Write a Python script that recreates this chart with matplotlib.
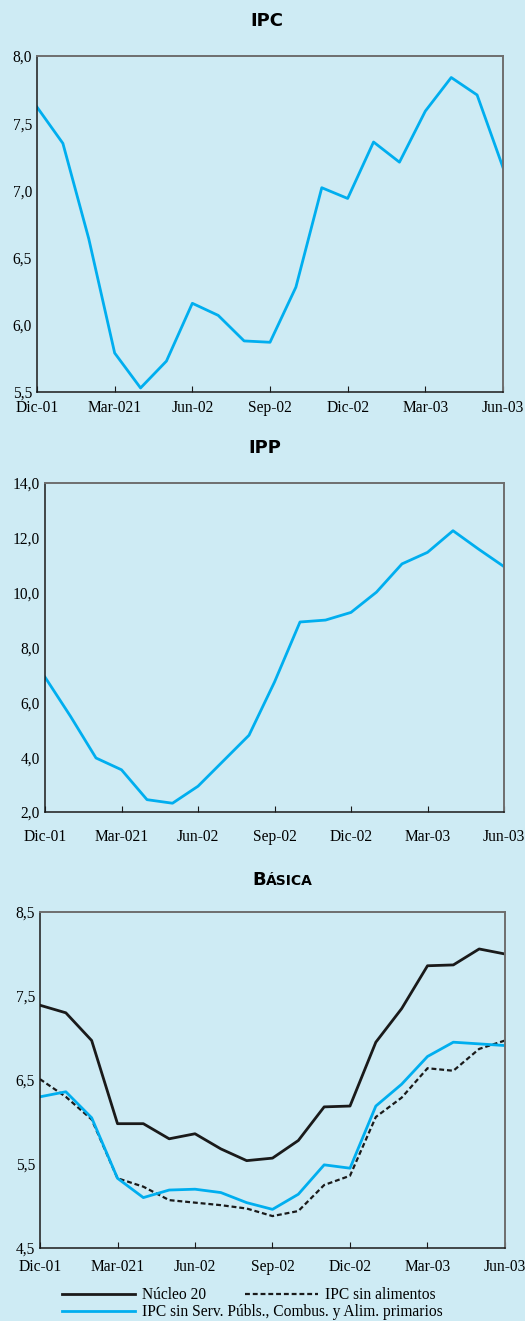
import numpy as np
import matplotlib.pyplot as plt
from matplotlib.lines import Line2D

# Meses (Dic-01 ... Jun-03), 19 observaciones mensuales
meses = np.arange(19)
etiquetas_x = ['Dic-01', 'Mar-021', 'Jun-02', 'Sep-02', 'Dic-02', 'Mar-03', 'Jun-03']
pos_etiquetas = [0, 3, 6, 9, 12, 15, 18]

ipc = [7.62, 7.35, 6.64, 5.79, 5.53, 5.73, 6.16, 6.07, 5.88, 5.87,
       6.28, 7.02, 6.94, 7.36, 7.21, 7.59, 7.84, 7.71, 7.17]

ipp = [6.92, 5.49, 3.97, 3.54, 2.45, 2.32, 2.94, 3.87, 4.80, 6.74,
       8.93, 9.00, 9.28, 10.02, 11.05, 11.47, 12.26, 11.59, 10.95]

nucleo20 = [7.39, 7.30, 6.97, 5.98, 5.98, 5.80, 5.86, 5.68, 5.54, 5.57,
            5.78, 6.18, 6.19, 6.95, 7.35, 7.86, 7.87, 8.06, 8.00]
sin_alimentos = [6.51, 6.30, 6.03, 5.33, 5.23, 5.07, 5.04, 5.01, 4.97, 4.88,
                 4.94, 5.25, 5.36, 6.06, 6.29, 6.64, 6.61, 6.87, 6.97]
sin_servicios = [6.30, 6.36, 6.05, 5.33, 5.10, 5.19, 5.20, 5.16, 5.04, 4.96,
                 5.14, 5.49, 5.45, 6.19, 6.45, 6.78, 6.95, 6.93, 6.91]

fondo = '#CEEBF4'
azul = '#00AEEF'
W, H = 525, 1321

plt.rcParams['font.family'] = ['Liberation Serif', 'DejaVu Serif']
plt.rcParams['font.size'] = 11.2

fig = plt.figure(figsize=(W / 100, H / 100), dpi=100, facecolor=fondo)


def crear_ejes(izq, der, arriba, abajo):
    ax = fig.add_axes([izq / W, 1 - abajo / H, (der - izq) / W, (abajo - arriba) / H])
    ax.set_facecolor(fondo)
    for lado in ['top', 'right']:
        ax.spines[lado].set_color('#6E6E6E')
        ax.spines[lado].set_linewidth(1.4)
    for lado in ['left', 'bottom']:
        ax.spines[lado].set_color('#1A1A1A')
        ax.spines[lado].set_linewidth(1.1)
    ax.set_xlim(0, 18)
    ax.set_xticks(pos_etiquetas)
    ax.set_xticklabels(etiquetas_x)
    ax.tick_params(axis='x', direction='in', length=4.5, width=0.8, color='#1A1A1A')
    ax.tick_params(axis='y', length=0, pad=3.5)
    return ax


def formato_coma(ax, valores):
    ax.set_yticks(valores)
    ax.set_yticklabels([f'{v:.1f}'.replace('.', ',') for v in valores])


# IPC
ax1 = crear_ejes(37, 503, 56, 392)
ax1.plot(meses, ipc, color=azul, lw=2)
ax1.set_ylim(5.5, 8.0)
formato_coma(ax1, [5.5, 6.0, 6.5, 7.0, 7.5, 8.0])
ax1.tick_params(axis='x', pad=5.5)
fig.text(267 / W, 1 - 21 / H, 'IPC', ha='center', va='center',
         family='DejaVu Sans', weight='bold', size=13)

# IPP
ax2 = crear_ejes(45, 504, 483, 812)
ax2.plot(meses, ipp, color=azul, lw=2)
ax2.set_ylim(2.0, 14.0)
formato_coma(ax2, [2.0, 4.0, 6.0, 8.0, 10.0, 12.0, 14.0])
ax2.tick_params(axis='x', pad=12)
fig.text(265 / W, 1 - 448 / H, 'IPP', ha='center', va='center',
         family='DejaVu Sans', weight='bold', size=13)

# Básica
ax3 = crear_ejes(40, 505, 912, 1248)
ax3.plot(meses, nucleo20, color='#1A1A1A', lw=2)
ax3.plot(meses, sin_alimentos, color='#1A1A1A', lw=1.6, ls=(0, (2.2, 1.3)))
ax3.plot(meses, sin_servicios, color=azul, lw=2)
ax3.set_ylim(4.5, 8.5)
formato_coma(ax3, [4.5, 5.5, 6.5, 7.5, 8.5])
ax3.tick_params(axis='x', pad=8)
fig.text(266 / W, 1 - 885 / H, 'B', ha='right', va='baseline',
         family='DejaVu Sans', weight='bold', size=13)
fig.text(266 / W, 1 - 885 / H, 'ÁSICA', ha='left', va='baseline',
         family='DejaVu Sans', weight='bold', size=10)

h1 = Line2D([], [], color='#1A1A1A', lw=2)
h2 = Line2D([], [], color='#1A1A1A', lw=1.6, ls=(0, (2.2, 1.3)))
h3 = Line2D([], [], color=azul, lw=2)
fig.legend([h1, h2], ['Núcleo 20', 'IPC sin alimentos'], ncol=2, frameon=False,
           loc='upper left', bbox_to_anchor=(62 / W, 1 - 1287 / H), borderpad=0,
           borderaxespad=0, handlelength=4.7, handletextpad=0.45, columnspacing=2.5,
           fontsize=11.2)
fig.legend([h3], ['IPC sin Serv. Públs., Combus. y Alim. primarios'], frameon=False,
           loc='upper left', bbox_to_anchor=(62 / W, 1 - 1304 / H), borderpad=0,
           borderaxespad=0, handlelength=4.7, handletextpad=0.45, fontsize=11.2)

fig.savefig('out.png', dpi=100, facecolor=fondo)
